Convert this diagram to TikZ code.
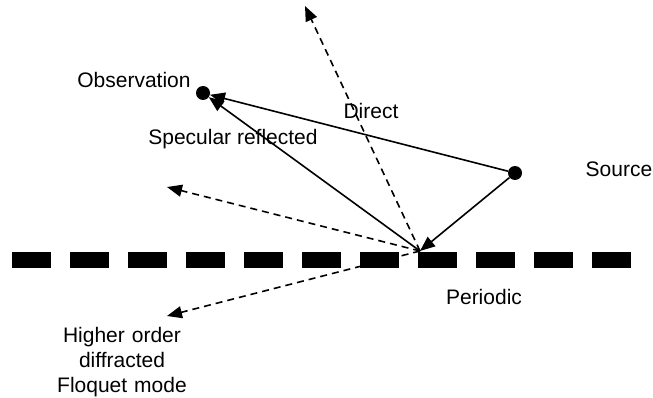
\documentclass[tikz,border=0pt]{standalone}
\usepackage{fontspec}
\setmainfont{Liberation Sans}
\usetikzlibrary{arrows.meta}
\tikzset{
  ray/.style={line width=1.6pt, -{Triangle[length=15pt,width=12pt]}},
  scat/.style={ray, dash pattern=on 7pt off 5pt},
  pt/.style={circle, fill=black, inner sep=0pt, minimum size=14pt},
  lbl/.style={font=\fontsize{21}{25}\selectfont, inner sep=0pt, align=center},
  seg/.style={fill=black}
}
\begin{document}
\begin{tikzpicture}[x=1pt,y=-1pt]
\useasboundingbox (0,0) rectangle (653,398);
% periodic surface
\foreach \i in {0,...,10}
  \fill[seg] ({12+58*\i},252) rectangle ({51+58*\i},268);
% points
\node[pt] (obs) at (203,93) {};
\node[pt] (src) at (515,173) {};
\coordinate (hit) at (420,251);
\coordinate (up) at (305,6);
\coordinate (left) at (167,187);
\coordinate (low) at (167,316);
% rays
\draw[ray] (src) -- (obs);
\draw[ray] (hit) -- (obs);
\draw[ray] (src) -- (hit);
\draw[scat] (hit) -- (up);
\draw[scat] (hit) -- (left);
\draw[scat] (hit) -- (low);
% labels
\node[lbl] (tobs) at (134,80) {Observation};
\node[lbl] (tdir) at (371,111) {Direct};
\node[lbl] (tspec) at (233,139) {Specular reflected};
\node[lbl] (tsrc) at (619,169) {Source};
\node[lbl] (tper) at (484,297) {Periodic};
\node[lbl, text width=160pt] (thigh) at (122,362) {Higher order\\diffracted\\Floquet mode};
\end{tikzpicture}
\end{document}
